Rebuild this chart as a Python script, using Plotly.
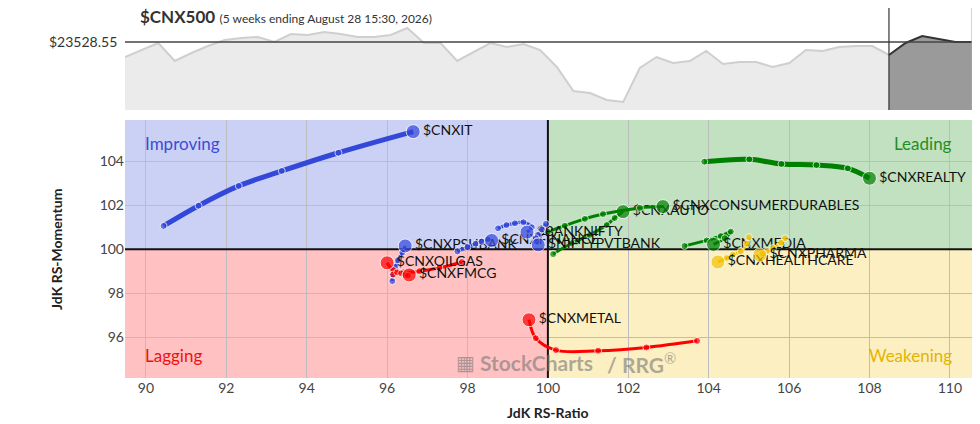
import plotly.graph_objects as go

# benchmark price (weekly), last 5 weeks are the RRG tail window
price_idx = list(range(52))
price = [23153, 23328, 23503, 23053, 23253, 23428, 23578, 23628, 23653, 23528,
         23728, 23703, 23778, 23728, 23653, 23653, 23703, 23878, 23503, 23503,
         23053, 23278, 23503, 23403, 23478, 23328, 22903, 22303, 22253, 22078,
         22028, 22878, 23153, 23003, 23053, 23303, 22978, 23028, 23028, 22903,
         23003, 23328, 23303, 23403, 23428, 23428, 23203, 23503, 23678, 23603,
         23528.55, 23528.55]
last_price = 23528.55
tail_start = 46

# RRG tails: oldest -> newest
names = ["$CNXIT", "$CNXMETAL", "$CNXREALTY", "$CNXPSUBANK", "$CNXOILGAS",
         "$CNXFMCG", "$CNXAUTO", "$CNXCONSUMERDURABLES", "$CNXMEDIA",
         "$CNXHEALTHCARE", "$CNXPHARMA", "$CNXFINANCE", "$BANKNIFTY",
         "$NIFTYPVTBANK"]
rs_ratio = [
    [90.44, 91.31, 92.31, 93.38, 94.79, 96.65],
    [103.71, 102.45, 101.25, 100.20, 99.70, 99.53],
    [103.89, 105.01, 105.81, 106.68, 107.46, 108.00],
    [96.13, 96.14, 96.20, 96.27, 96.38, 96.45],
    [97.86, 97.30, 96.80, 96.40, 96.15, 96.00],
    [96.15, 96.25, 96.35, 96.45, 96.52, 96.55],
    [100.13, 100.59, 101.04, 101.46, 101.66, 101.87],
    [100.00, 100.42, 100.92, 101.37, 102.29, 102.86],
    [103.40, 103.95, 104.30, 104.55, 104.40, 104.12],
    [105.00, 104.95, 104.80, 104.60, 104.45, 104.23],
    [105.90, 105.80, 105.60, 105.45, 105.35, 105.27],
    [97.75, 98.00, 98.20, 98.35, 98.50, 98.60],
    [98.76, 98.97, 99.18, 99.39, 99.60, 99.48],
    [99.95, 99.85, 99.75, 99.70, 99.72, 99.76],
]
rs_momentum = [
    [101.06, 101.98, 102.88, 103.56, 104.39, 105.35],
    [95.83, 95.53, 95.38, 95.41, 95.95, 96.79],
    [103.98, 104.09, 103.88, 103.83, 103.68, 103.23],
    [98.55, 98.85, 99.20, 99.50, 99.85, 100.15],
    [99.42, 99.15, 99.00, 98.95, 99.05, 99.38],
    [98.85, 98.95, 98.90, 98.82, 98.80, 98.83],
    [99.78, 100.27, 100.65, 101.10, 101.42, 101.71],
    [100.79, 101.07, 101.38, 101.60, 101.88, 101.94],
    [100.15, 100.40, 100.60, 100.80, 100.50, 100.22],
    [100.55, 100.25, 99.90, 99.75, 99.60, 99.42],
    [100.50, 100.30, 100.05, 99.90, 99.80, 99.74],
    [99.90, 100.10, 100.25, 100.35, 100.45, 100.40],
    [100.95, 101.10, 101.18, 101.23, 101.00, 100.78],
    [101.15, 100.90, 100.65, 100.50, 100.35, 100.20],
]

BLUE = "#3347d9"
GREEN = "#008000"
RED = "#ff0000"
YELLOW = "#f2c200"
colors = [BLUE, RED, GREEN, BLUE, RED, RED, GREEN, GREEN, GREEN,
          YELLOW, YELLOW, BLUE, BLUE, BLUE]
widths = [5, 3, 5, 3, 3, 3, 3, 3, 3, 3, 3, 3, 3, 3]

XR = [89.48, 110.55]
YR = [94.14, 105.88]

fig = go.Figure()

# price panel
fig.add_trace(go.Scatter(
    x=price_idx[:tail_start + 1], y=price[:tail_start + 1],
    mode="lines", line=dict(color="#cfcfcf", width=2),
    fill="tozeroy", fillcolor="#ebebeb",
    xaxis="x", yaxis="y", hoverinfo="skip"))
fig.add_trace(go.Scatter(
    x=price_idx[tail_start:], y=price[tail_start:],
    mode="lines", line=dict(color="#333333", width=2),
    fill="tozeroy", fillcolor="#9a9a9a",
    xaxis="x", yaxis="y", hoverinfo="skip"))

# rrg tails
for name, xs, ys, c, w in zip(names, rs_ratio, rs_momentum, colors, widths):
    n = len(xs)
    fig.add_trace(go.Scatter(
        x=xs, y=ys, xaxis="x2", yaxis="y2",
        mode="lines+markers+text",
        line=dict(color=c, width=w, shape="spline"),
        marker=dict(color=c, size=[7] * (n - 1) + [14]),
        text=[""] * (n - 1) + [name],
        textposition="middle right",
        textfont=dict(family="Lato", size=14, color="#111111"),
        cliponaxis=False, name=name))

shapes = [
    # quadrants
    dict(type="rect", xref="x2", yref="y2", x0=XR[0], x1=100, y0=100, y1=YR[1],
         fillcolor="#cbd0f5", line_width=0, layer="below"),
    dict(type="rect", xref="x2", yref="y2", x0=100, x1=XR[1], y0=100, y1=YR[1],
         fillcolor="#c1e1c1", line_width=0, layer="below"),
    dict(type="rect", xref="x2", yref="y2", x0=XR[0], x1=100, y0=YR[0], y1=100,
         fillcolor="#ffc1c1", line_width=0, layer="below"),
    dict(type="rect", xref="x2", yref="y2", x0=100, x1=XR[1], y0=YR[0], y1=100,
         fillcolor="#fcefc1", line_width=0, layer="below"),
    dict(type="line", xref="x2", yref="y2", x0=100, x1=100, y0=YR[0], y1=YR[1],
         line=dict(color="#111111", width=2), layer="between"),
    dict(type="line", xref="x2", yref="y2", x0=XR[0], x1=XR[1], y0=100, y1=100,
         line=dict(color="#111111", width=2), layer="between"),
    # price panel lines
    dict(type="line", xref="x domain", yref="y", x0=0, x1=1, y0=last_price,
         y1=last_price, line=dict(color="#444444", width=1.5)),
    dict(type="line", xref="x", yref="y domain", x0=tail_start, x1=tail_start,
         y0=0, y1=1, line=dict(color="#333333", width=1.2)),
    dict(type="line", xref="x domain", yref="y domain", x0=1, x1=1, y0=0, y1=1,
         line=dict(color="#aaaaaa", width=1)),
]

WM = "rgba(120,120,120,0.6)"
annotations = [
    dict(xref="paper", yref="paper", x=0.0153, y=0.978, xanchor="left",
         yanchor="middle", showarrow=False,
         text="<b>$CNX500</b> <span style='font-size:12px'>"
              "(5 weeks ending August 28 15:30, 2026)</span>",
         font=dict(family="Lato", size=17, color="#333333")),
    dict(xref="paper", yref="y", x=0, y=last_price, xanchor="right",
         xshift=-6, showarrow=False, text="$23528.55",
         font=dict(family="Lato", size=14, color="#333333")),
    dict(xref="x2", yref="y2", x=89.94, y=104.79, xanchor="left",
         showarrow=False, text="Improving",
         font=dict(family="Lato", size=17, color="#3a4bd6")),
    dict(xref="x2", yref="y2", x=110.11, y=104.79, xanchor="right",
         showarrow=False, text="Leading",
         font=dict(family="Lato", size=17, color="#1f8f1f")),
    dict(xref="x2", yref="y2", x=89.94, y=95.15, xanchor="left",
         showarrow=False, text="Lagging",
         font=dict(family="Lato", size=17, color="#f01010")),
    dict(xref="x2", yref="y2", x=110.11, y=95.15, xanchor="right",
         showarrow=False, text="Weakening",
         font=dict(family="Lato", size=17, color="#e6b400")),
    # watermark
    dict(xref="x2", yref="y2", x=97.66, y=94.83, xanchor="left",
         showarrow=False, text="▦",
         font=dict(family="DejaVu Sans", size=20, color=WM)),
    dict(xref="x2", yref="y2", x=98.26, y=94.83, xanchor="left",
         showarrow=False, text="<b>StockCharts</b>",
         font=dict(family="Lato", size=21, color=WM)),
    dict(xref="x2", yref="y2", x=101.42, y=94.83, xanchor="left",
         showarrow=False, text="<b>/ RRG</b><sup>®</sup>",
         font=dict(family="Lato", size=21, color=WM)),
    # axis titles
    dict(xref="paper", yref="paper", x=0.4994, y=-0.0945, yanchor="middle",
         showarrow=False, text="<b>JdK RS-Ratio</b>",
         font=dict(family="Lato", size=14, color="#222222")),
    dict(xref="paper", yref="paper", x=-0.0803, y=0.3487, xanchor="center",
         yanchor="middle", textangle=-90, showarrow=False,
         text="<b>JdK RS-Momentum</b>",
         font=dict(family="Lato", size=14, color="#222222")),
]

# page body adds an 8px margin, so the figure is sized to fit the window
fig.update_layout(
    width=972, height=416,
    margin=dict(l=117, r=8, t=0, b=46),
    paper_bgcolor="white", plot_bgcolor="white",
    showlegend=False,
    font=dict(family="Lato", size=13, color="#444444"),
    xaxis=dict(domain=[0, 1], anchor="y", range=[0, 51], visible=False),
    yaxis=dict(domain=[0.7243, 1], anchor="x", range=[21828, 24378],
               visible=False),
    xaxis2=dict(domain=[0, 1], anchor="y2", range=XR, dtick=2, tick0=90,
                showgrid=True, gridcolor="#bdbdbd", gridwidth=1,
                zeroline=False, ticks="", tickfont=dict(size=14),
                automargin=False),
    yaxis2=dict(domain=[0, 0.6973], anchor="x2", range=YR, dtick=2, tick0=94,
                showgrid=True, gridcolor="#bdbdbd", gridwidth=1,
                zeroline=False, ticks="", tickfont=dict(size=14),
                automargin=False),
    shapes=shapes,
    annotations=annotations,
)

fig.write_html("out.html")
